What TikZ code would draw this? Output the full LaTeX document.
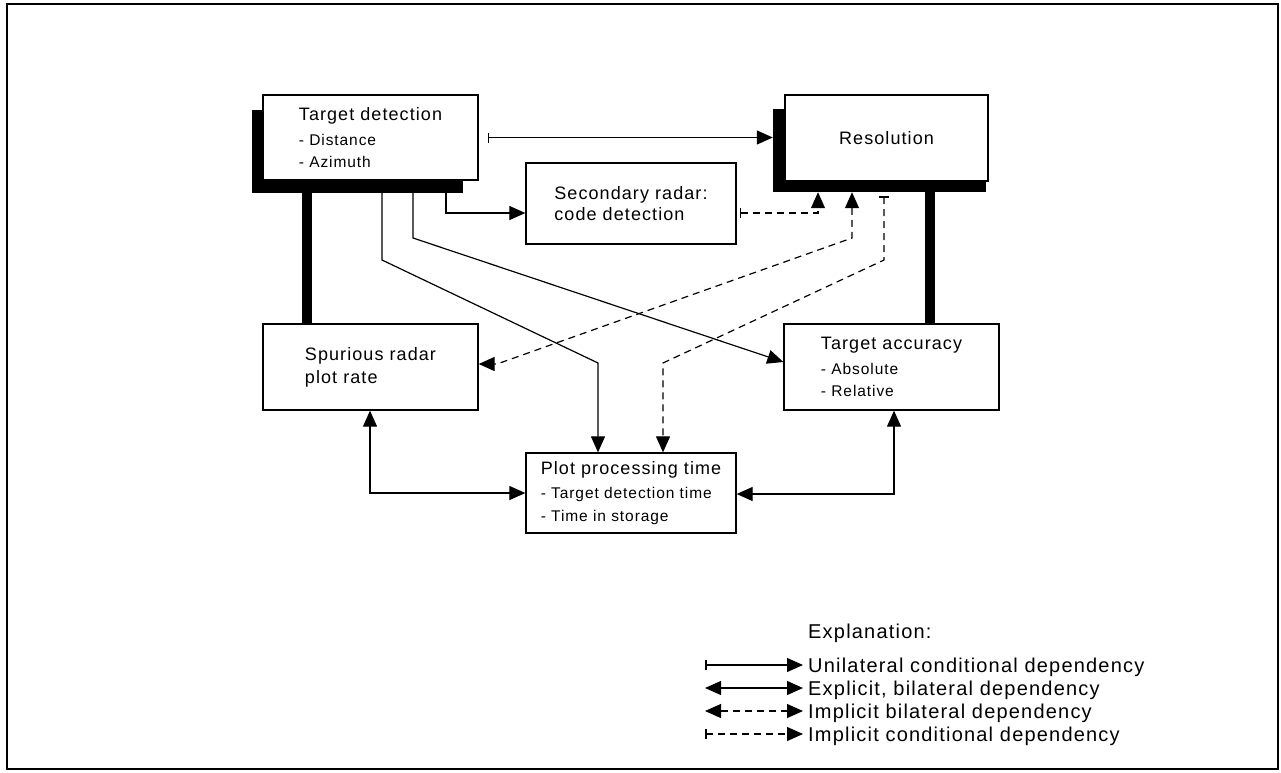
\documentclass[tikz,border=0pt]{standalone}
\usepackage{fontspec}
\setmainfont{Liberation Sans}[LetterSpace=6]
\usetikzlibrary{arrows.meta}

% font sizes used in the boxes and in the key
\newcommand\boxtitle{\fontsize{18}{22}\selectfont}
\newcommand\boxitem{\fontsize{15.5}{22}\selectfont}
\newcommand\keyfont{\fontsize{20}{24}\selectfont}

\begin{document}
\begin{tikzpicture}[x=1pt,y=-1pt,
  box/.style={draw,line width=1.3pt,fill=white,inner sep=0pt,align=left},
  shade/.style={fill=black,draw=none,inner sep=0pt},
  heavy/.style={line width=10.5pt},
  conn/.style={line width=1.2pt},
  imp/.style={conn,dash pattern=on 7pt off 5pt},
  uni/.style={conn,{Bar[width=10pt,line width=1.6pt]}-{Triangle[length=16pt,width=14pt]}},
  bi/.style={conn,{Triangle[length=16pt,width=14pt]}-{Triangle[length=16pt,width=14pt]}},
  dep/.style={conn,-{Triangle[length=16pt,width=14pt]}},
  impbi/.style={imp,{Triangle[length=16pt,width=14pt]}-{Triangle[length=16pt,width=14pt]}},
  impcond/.style={imp,{Bar[width=10pt,line width=1.6pt]}-{Triangle[length=16pt,width=14pt]}},
  keytext/.style={anchor=base west,inner sep=0pt,font=\keyfont}
]
\useasboundingbox (0,0) rectangle (1281,772);
\draw[line width=1.3pt] (7,4) rectangle (1278,769);

% drop shadows of the two main boxes
\node[shade,minimum width=211pt,minimum height=83pt] (tdsh) at (357.5,151.5) {};
\node[shade,minimum width=213pt,minimum height=83pt] (ressh) at (879.5,150.5) {};

% boxes
\node[box,minimum width=215pt,minimum height=85pt,font=\boxitem] (td) at (370.5,137.5)
  {{\boxtitle Target detection}\\[3pt]- Distance\\- Azimuth};
\node[box,minimum width=203pt,minimum height=86pt,font=\boxtitle] (res) at (886.5,138) {Resolution};
\node[box,minimum width=210pt,minimum height=81pt,font=\fontsize{18}{21}\selectfont] (sec) at (631,203.5)
  {Secondary radar:\\code detection};
\node[box,minimum width=215pt,minimum height=86pt,font=\fontsize{18}{23}\selectfont] (spur) at (370.5,367)
  {Spurious radar\\plot rate};
\node[box,minimum width=215pt,minimum height=86pt,font=\boxitem] (acc) at (891.5,367)
  {{\boxtitle Target accuracy}\\[3pt]- Absolute\\- Relative};
\node[box,minimum width=210pt,minimum height=80pt,font=\fontsize{15.5}{23}\selectfont] (plot) at (631,493)
  {{\boxtitle Plot processing time}\\[1pt]- Target detection time\\- Time in storage};

% bend points of the connectors
\coordinate (k1) at (307,0);
\coordinate (k2) at (930,0);
\coordinate (c1) at (446,213);
\coordinate (c2) at (818,213);
\coordinate (c3) at (852,238);
\coordinate (c4) at (497,364);
\coordinate (c5top) at (884,196);
\coordinate (c5) at (884,260);
\coordinate (c6) at (663,363);
\coordinate (c7) at (382,260);
\coordinate (c8) at (598,363);
\coordinate (c9) at (413,238);
\coordinate (c11) at (370,493);
\coordinate (c12) at (894,494);

% heavy links
\draw[heavy] (tdsh.south -| k1) -- (spur.north -| k1);
\draw[heavy] (ressh.south -| k2) -- (acc.north -| k2);

% dependencies
\draw[uni] ([xshift=9pt]td.east) -- (td.east -| ressh.west);
\draw[dep] (tdsh.south -| c1) -- (c1) -- (sec.west |- c1);
\draw[impcond] ([xshift=3pt]sec.east |- c2) -- (c2) -- (ressh.south -| c2);
\draw[impbi] (ressh.south -| c3) -- (c3) -- (c4) -- (spur.east |- c4);
\draw[impcond] (c5top) -- (c5) -- (c6) -- (plot.north -| c6);
\draw[dep] (tdsh.south -| c7) -- (c7) -- (c8) -- (plot.north -| c8);
\draw[dep] (tdsh.south -| c9) -- (c9) -- ([yshift=5pt]acc.west);
\draw[bi] (spur.south -| c11) -- (c11) -- (plot.west |- c11);
\draw[bi] (acc.south -| c12) -- (c12) -- (plot.east |- c12);

% key
\node[keytext] (expl) at (808,638) {Explanation:};
\coordinate (l1a) at (705,665); \coordinate (l1b) at (803,665);
\coordinate (l2a) at (705,688); \coordinate (l2b) at (803,688);
\coordinate (l3a) at (705,711); \coordinate (l3b) at (803,711);
\coordinate (l4a) at (705,734); \coordinate (l4b) at (803,734);
\draw[uni] (l1a) -- (l1b);
\draw[bi] (l2a) -- (l2b);
\draw[impbi] (l3a) -- (l3b);
\draw[impcond] (l4a) -- (l4b);
\node[keytext] (t1) at (808,672) {Unilateral conditional dependency};
\node[keytext] (t2) at (808,695) {Explicit, bilateral dependency};
\node[keytext] (t3) at (808,718) {Implicit bilateral dependency};
\node[keytext] (t4) at (808,741) {Implicit conditional dependency};
\end{tikzpicture}
\end{document}
